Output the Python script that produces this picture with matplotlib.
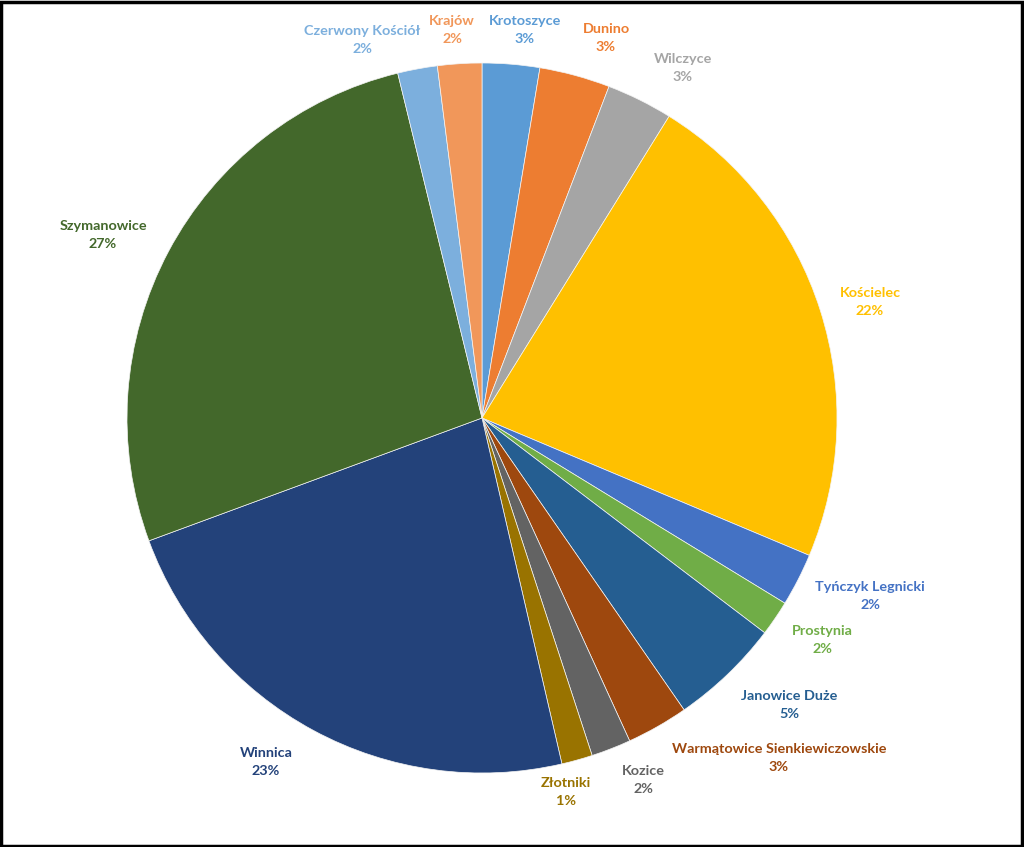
import matplotlib.pyplot as plt
from matplotlib.patches import Rectangle

# slices, clockwise from 12 o'clock
names = ['Krotoszyce', 'Dunino', 'Wilczyce', 'Kościelec', 'Tyńczyk Legnicki',
         'Prostynia', 'Janowice Duże', 'Warmątowice Sienkiewiczowskie', 'Kozice',
         'Złotniki', 'Winnica', 'Szymanowice', 'Czerwony Kościół', 'Krajów']
values = [2.6, 3.2, 3.0, 22.4, 2.4, 1.6, 5.0, 2.8, 1.8, 1.4, 22.9, 26.7, 1.8, 2.0]
colors = ['#5B9BD5', '#ED7D31', '#A5A5A5', '#FFC000', '#4472C4', '#70AD47',
          '#255E91', '#9E480E', '#636363', '#997300', '#23427A', '#43682B',
          '#7CAFDD', '#F1975A']

# label centres (pixels in the 1024x847 picture)
label_px = [(525, 30), (606, 38), (683, 68), (870, 302), (870, 596),
            (822, 640), (789, 705), (779, 758), (643, 780), (566, 792),
            (266, 762), (103, 235), (362, 40), (452, 30)]

cx, cy, r = 482, 418, 355
W, H = 1024, 847

fig = plt.figure(figsize=(W / 100, H / 100), dpi=100)
ax = fig.add_axes([0, 0, 1, 1])

wedges, _ = ax.pie(values, colors=colors, startangle=90, counterclock=False,
                   wedgeprops=dict(linewidth=0.5, edgecolor='#f4f4f4'))

ax.set_aspect('auto')
ax.set_xlim((0 - cx) / r, (W - cx) / r)
ax.set_ylim((cy - H) / r, cy / r)
ax.axis('off')

total = sum(values)
for name, v, c, (px, py) in zip(names, values, colors, label_px):
    pct = round(v / total * 100)
    ax.text((px - cx) / r, (cy - py) / r, f'{name}\n{pct}%', color=c,
            ha='center', va='center', fontsize=10.4, fontweight='bold',
            family='Lato', linespacing=1.55)

fig.patches.append(Rectangle((0.001, 0.001), 0.997, 0.997, transform=fig.transFigure,
                             fill=False, edgecolor='black', linewidth=2.5))

fig.savefig('out.png', dpi=100, facecolor='white')
